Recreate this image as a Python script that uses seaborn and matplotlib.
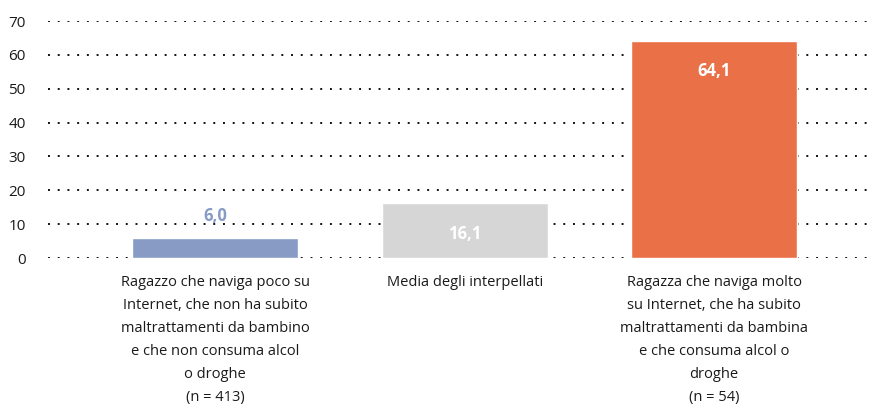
import matplotlib
matplotlib.use("Agg")
import matplotlib.pyplot as plt
import pandas as pd
import seaborn as sns

categories = [
    "Ragazzo che naviga poco su\nInternet, che non ha subito\nmaltrattamenti da bambino\ne che non consuma alcol\no droghe\n(n = 413)",
    "Media degli interpellati",
    "Ragazza che naviga molto\nsu Internet, che ha subito\nmaltrattamenti da bambina\ne che consuma alcol o\ndroghe\n(n = 54)",
]
values = [6.0, 16.1, 64.1]
colors = ["#879BC5", "#D6D6D6", "#EA7147"]
label_colors = ["#879BC5", "white", "white"]
yticks = [0, 10, 20, 30, 40, 50, 60, 70]

df = pd.DataFrame({"cat": categories, "val": values})

sns.set_style("white")
plt.rcParams["font.family"] = ["Open Sans", "DejaVu Sans"]

fig = plt.figure(figsize=(8.7, 4.09), dpi=100)
ax = fig.add_axes([48 / 870, 1 - 258 / 409, 1 - 48 / 870, (258 - 21) / 409])

sns.barplot(data=df, x="cat", y="val", hue="cat", palette=colors,
            width=0.665, legend=False, ax=ax, zorder=3, saturation=1)

ax.set_ylim(0, 70)
ax.set_xlim(-0.67, 2.625)
ax.set_yticks(yticks)
for y in yticks:
    ax.axhline(y, color="#111111", linestyle=(0, (1, 4)), linewidth=1.4, zorder=1)

for s in ax.spines.values():
    s.set_visible(False)
ax.set_xlabel("")
ax.set_ylabel("")
ax.tick_params(axis="y", length=0, pad=16, labelsize=11, labelcolor="#1a1a1a")
ax.tick_params(axis="x", length=0, pad=12, labelsize=10.5, labelcolor="#1a1a1a")
for t in ax.get_xticklabels():
    t.set_linespacing(1.74)
    t.set_va("top")

for i, (v, c) in enumerate(zip(values, label_colors)):
    txt = f"{v:.1f}".replace(".", ",")
    if i == 0:
        ax.text(i, v + 3.6, txt, ha="center", va="bottom",
                color=c, fontsize=12, fontweight="bold")
    else:
        ax.text(i, v - 9.0, txt, ha="center", va="center",
                color=c, fontsize=12, fontweight="bold")

fig.savefig("out.png", dpi=100)
